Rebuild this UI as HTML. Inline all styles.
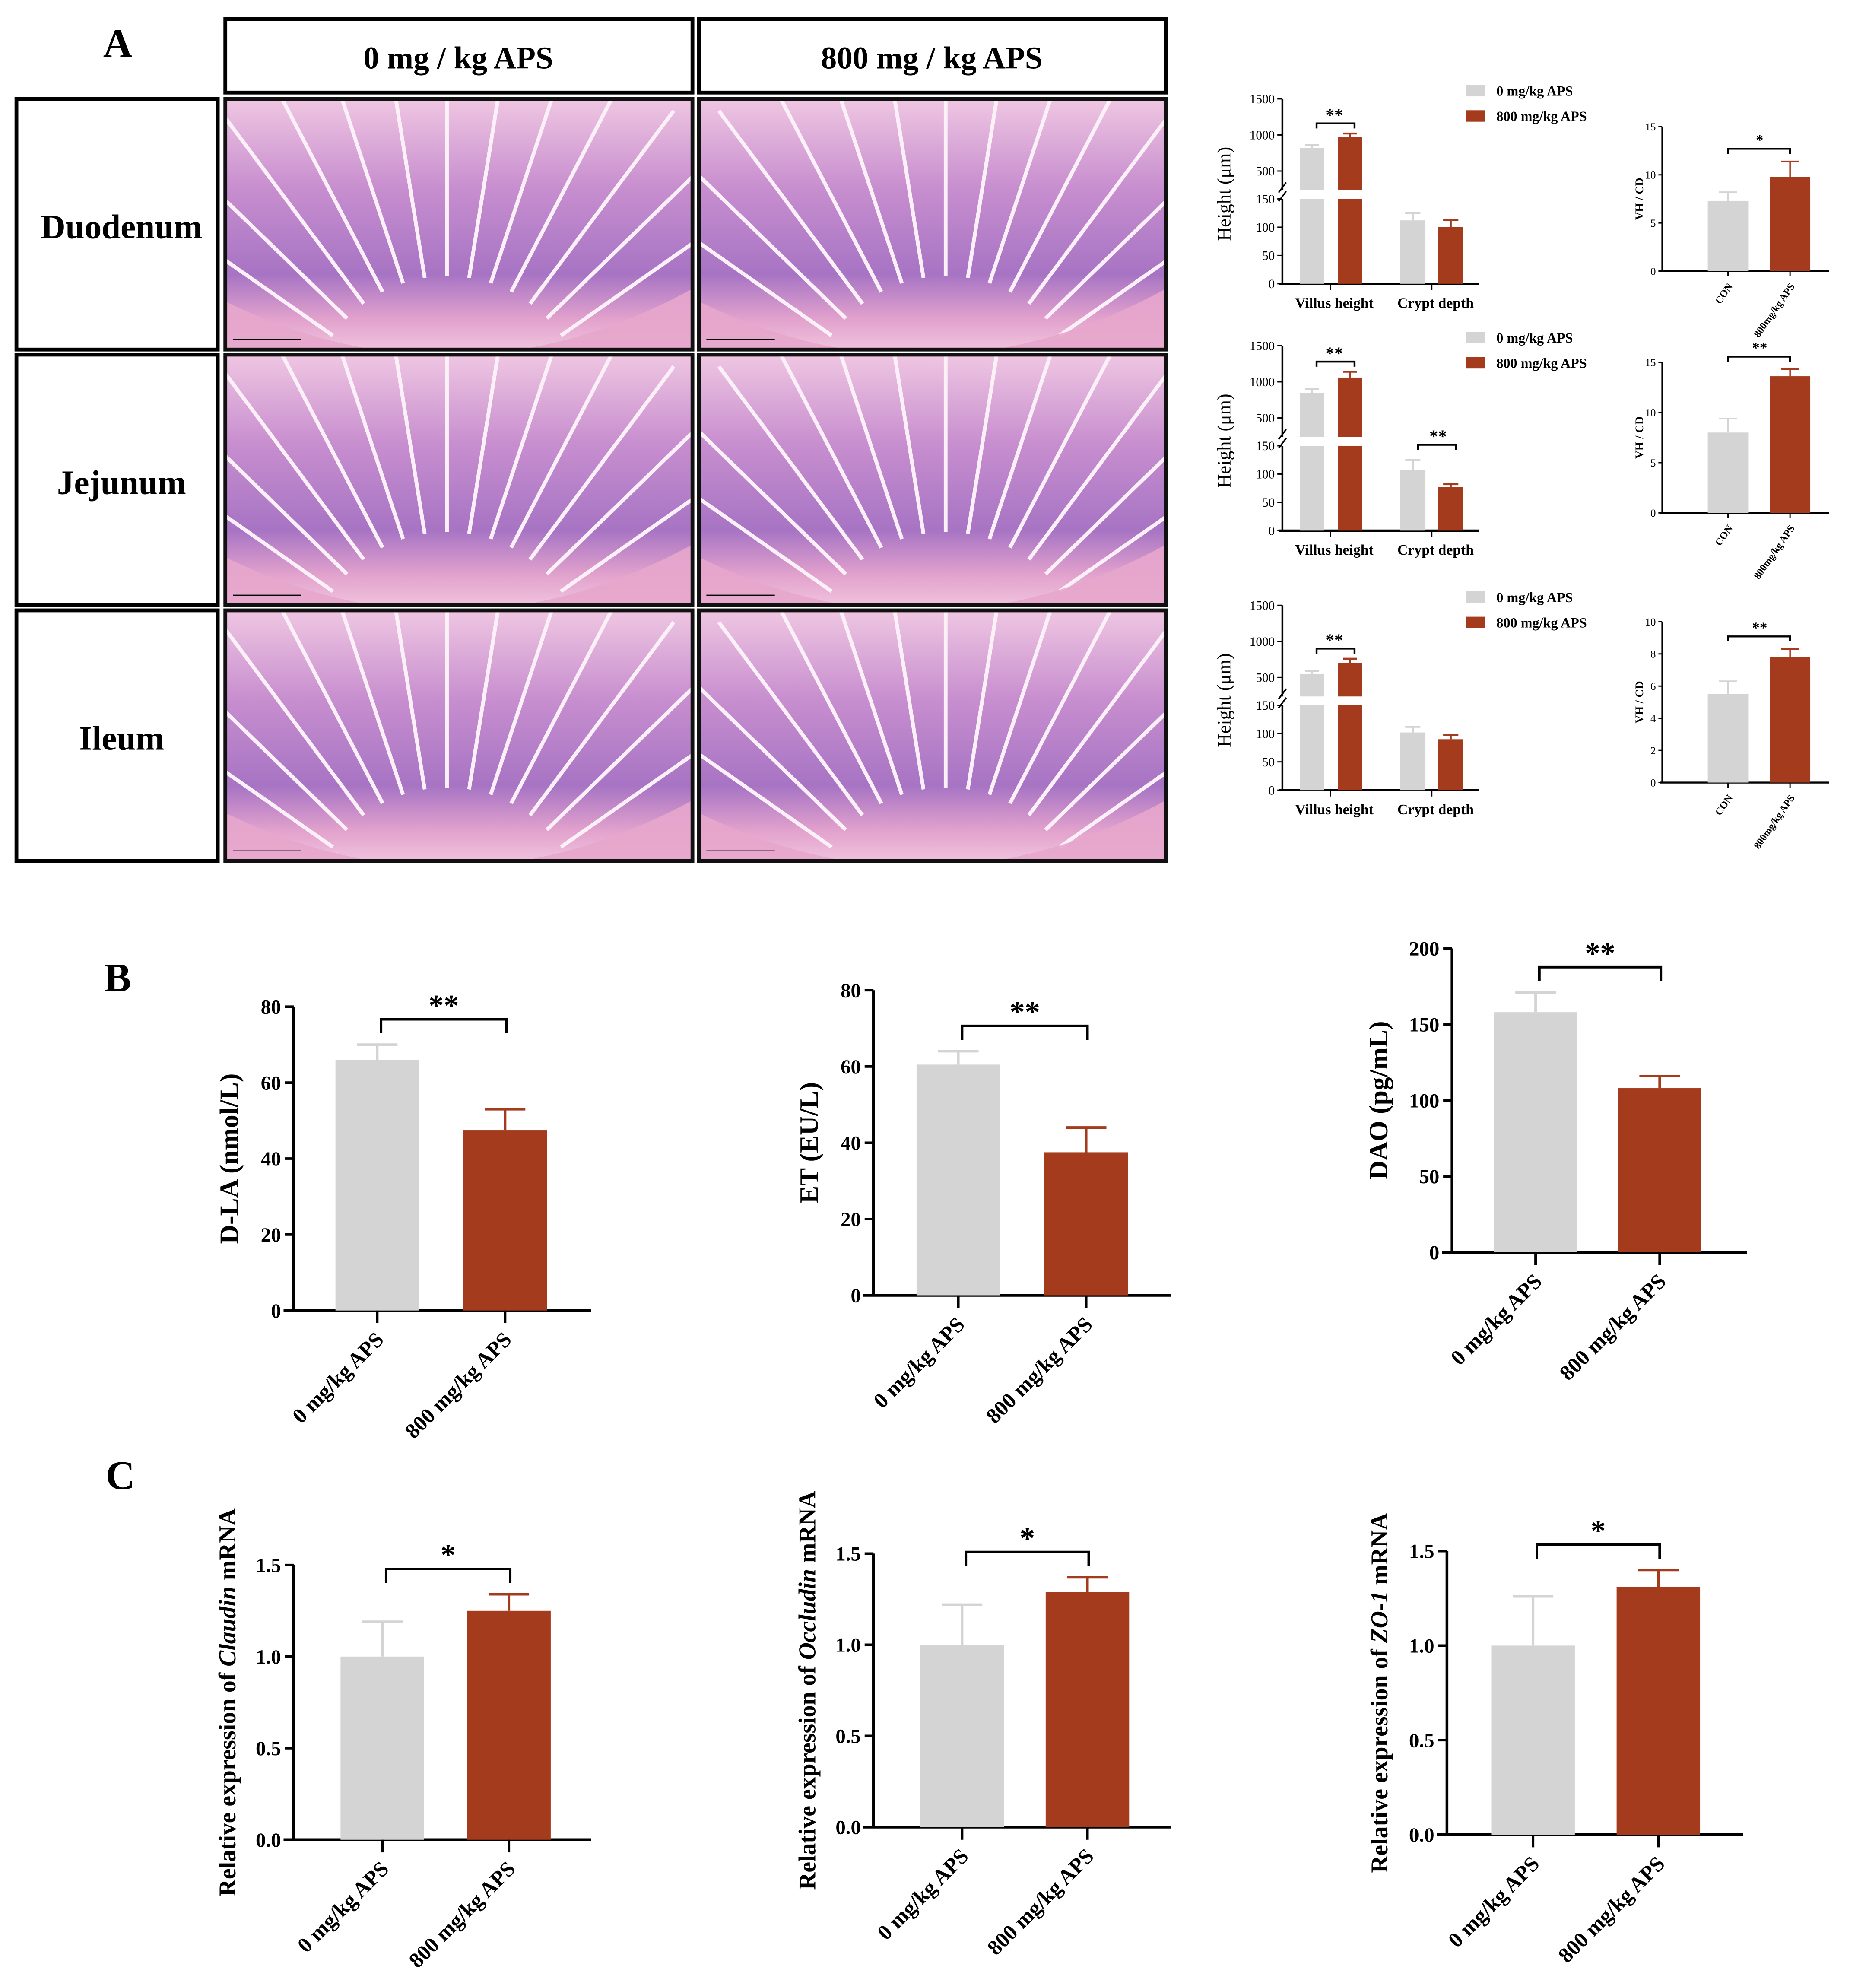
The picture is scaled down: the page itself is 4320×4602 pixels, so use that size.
<!DOCTYPE html>
<html><head><meta charset="utf-8">
<style>
html,body{margin:0;padding:0;background:#fff;}
svg{display:block;font-family:"Liberation Serif",serif;}
</style></head>
<body>
<svg id="fig" width="4320" height="4602" viewBox="0 0 1474 1570" xmlns="http://www.w3.org/2000/svg">
<defs id="defs">
<linearGradient id="tis" x1="0" y1="0" x2="0" y2="1">
<stop offset="0" stop-color="#efc6e2"/><stop offset="0.35" stop-color="#c88fcf"/><stop offset="0.7" stop-color="#a774c4"/><stop offset="0.88" stop-color="#e2a2cd"/><stop offset="1" stop-color="#f0c2dd"/>
</linearGradient>
</defs>
<g id="layer"></g>
</svg>
<script>
// ---------- Data ----------
const groups = ["0 mg/kg APS", "800 mg/kg APS"];
const segments = ["Duodenum", "Jejunum", "Ileum"];
const miniCats = ["Villus height", "Crypt depth"];
const villusCtrl = [820, 850, 550];
const villusAps = [970, 1060, 700];
const villusCtrlErr = [860, 900, 590];
const villusApsErr = [1020, 1140, 760];
const cryptCtrl = [112, 107, 102];
const cryptAps = [100, 77, 90];
const cryptCtrlErr = [125, 125, 112];
const cryptApsErr = [113, 82, 98];
const miniSig = ["**", "**", "**"];
const cryptSig = ["", "**", ""];
const ratioCtrl = [7.3, 8.0, 5.5];
const ratioAps = [9.8, 13.6, 7.8];
const ratioCtrlErr = [8.2, 9.4, 6.3];
const ratioApsErr = [11.4, 14.3, 8.3];
const ratioMax = [15, 15, 10];
const ratioSig = ["*", "**", "**"];
const ratioTicks = [[0,5,10,15],[0,5,10,15],[0,2,4,6,8,10]];
const upperTicks = [500, 1000, 1500];
const lowerTicks = [0, 50, 100, 150];

const bTitles = ["D-LA (nmol/L)", "ET (EU/L)", "DAO (pg/mL)"];
const bCtrl = [66, 60.5, 158];
const bAps = [47.5, 37.5, 108];
const bCtrlErr = [70, 64, 171];
const bApsErr = [53, 44, 116];
const bMax = [80, 80, 200];
const bTicks = [[0,20,40,60,80],[0,20,40,60,80],[0,50,100,150,200]];
const bSig = ["**", "**", "**"];

const cGenes = ["Claudin", "Occludin", "ZO-1"];
const cCtrl = [1.0, 1.0, 1.0];
const cAps = [1.25, 1.29, 1.31];
const cCtrlErr = [1.19, 1.22, 1.26];
const cApsErr = [1.34, 1.37, 1.40];
const cTicks = [0, 0.5, 1.0, 1.5];
const cSig = ["*", "*", "*"];

const GRAY = "#d3d4d3", RED = "#a53b1d";
const NS = "http://www.w3.org/2000/svg";
const root = document.getElementById("layer");
const defs = document.getElementById("defs");
function mk(tag, attrs, parent, text){
  const e = document.createElementNS(NS, tag);
  for (const k in attrs) e.setAttribute(k, attrs[k]);
  if (text !== undefined) e.textContent = text;
  (parent || root).appendChild(e);
  return e;
}

// ---------- Panel A: headers and histology ----------
let t;
t = mk("text", {x:93, y:45, "font-size":32, "font-weight":"bold", "text-anchor":"middle"}, root, "A");


const headX = [178, 552];
const headTxt = ["0 mg / kg APS", "800 mg / kg APS"];
for (let i=0;i<2;i++){
  const g = mk("g", {});
  
  
  mk("rect", {x:headX[i], y:15, width:369, height:58, fill:"none", stroke:"#000", "stroke-width":3}, g);
  mk("text", {x:headX[i]+184, y:54, "font-size":25, "font-weight":"bold", "text-anchor":"middle"}, g, headTxt[i]);
}
const rowY = [78, 280, 482];
for (let r=0;r<3;r++){
  const g = mk("g", {});
  
  
  mk("rect", {x:13, y:rowY[r], width:159, height:198, fill:"none", stroke:"#000", "stroke-width":3}, g);
  mk("text", {x:96, y:rowY[r]+110, "font-size":27, "font-weight":"bold", "text-anchor":"middle"}, g, segments[r]);
  for (let c=0;c<2;c++){
    const x0 = headX[c], y0 = rowY[r];
    const cid = 'clip' + r + c;
    const cp = mk("clipPath", {id:cid}, defs);
    mk("rect", {x:x0, y:y0, width:369, height:198}, cp);
    const im = mk("g", {});
    
    
    const inner = mk("g", {"clip-path":`url(#${cid})`}, im);
    mk("rect", {x:x0, y:y0, width:369, height:198, fill:"url(#tis)"}, inner);
    const cx = x0 + 185 + (c?10:-10), cy = y0 + 250;
    for (let k=0;k<13;k++){
      const a = -Math.PI/2 + (k-6)*0.16;
      const r1 = 110, r2 = 300;
      mk("line", {x1:cx+r1*Math.cos(a), y1:cy+r1*Math.sin(a), x2:cx+r2*Math.cos(a), y2:cy+r2*Math.sin(a), stroke:"#fbf0f7", "stroke-width":3}, inner);
    }
    mk("path", {d:`M${x0} ${y0+160} Q${x0+185} ${y0+250} ${x0+369} ${y0+150} L${x0+369} ${y0+198} L${x0} ${y0+198}Z`, fill:"#e7a6cc", opacity:0.9}, inner);
    mk("line", {x1:x0+6, y1:y0+190, x2:x0+60, y2:y0+190, stroke:"#000", "stroke-width":0.8}, inner);
    mk("rect", {x:x0, y:y0, width:369, height:198, fill:"none", stroke:"#111", "stroke-width":3}, im);
  }
}

// ---------- Panel A: mini charts ----------
const miniTop = [78, 273, 478];
const ratioTop = [100, 286, 491];
const ratioBot = [214, 405, 618];
for (let r=0;r<3;r++){
  const y0 = miniTop[r], ax = 1013, axEnd = 1168;
  const g = mk("g", {});
  
  
  const upY = v => y0 + (1500 - v) * 0.057;
  const upBot = y0 + 72;
  const loY = v => y0 + 146 - v * (67/150);
  mk("line", {x1:ax, y1:y0, x2:ax, y2:upBot, stroke:"#000", "stroke-width":1.5}, g);
  mk("line", {x1:ax, y1:y0+79, x2:ax, y2:y0+146, stroke:"#000", "stroke-width":1.5}, g);
  mk("line", {x1:ax-3, y1:upBot+2, x2:ax+3, y2:upBot-6, stroke:"#000", "stroke-width":1.2}, g);
  mk("line", {x1:ax-3, y1:y0+81, x2:ax+3, y2:y0+73, stroke:"#000", "stroke-width":1.2}, g);
  mk("line", {x1:ax-3, y1:y0+146, x2:axEnd, y2:y0+146, stroke:"#000", "stroke-width":1.8}, g);
  upperTicks.forEach(v=>{ mk("line",{x1:ax-4,y1:upY(v),x2:ax,y2:upY(v),stroke:"#000"},g); mk("text",{x:ax-6,y:upY(v)+3.5,"font-size":10,"text-anchor":"end"},g,String(v)); });
  lowerTicks.forEach(v=>{ mk("line",{x1:ax-4,y1:loY(v),x2:ax,y2:loY(v),stroke:"#000"},g); mk("text",{x:ax-6,y:loY(v)+3.5,"font-size":10,"text-anchor":"end"},g,String(v)); });
  mk("text", {x:972, y:y0+75, "font-size":15, "text-anchor":"middle", transform:`rotate(-90 972 ${y0+75})`}, g, "Height (μm)");
  const vx = [1027, 1057], vals = [villusCtrl[r], villusAps[r]], errs = [villusCtrlErr[r], villusApsErr[r]];
  for (let i=0;i<2;i++){
    const col = i?RED:GRAY;
    const b = mk("rect", {x:vx[i], y:upY(vals[i]), width:19, height:upBot-upY(vals[i]), fill:col}, g);
    
    
    mk("rect", {x:vx[i], y:loY(150), width:19, height:loY(0)-loY(150), fill:col}, g);
    mk("line", {x1:vx[i]+9.5, y1:upY(vals[i]), x2:vx[i]+9.5, y2:upY(errs[i]), stroke:col, "stroke-width":1.5}, g);
    mk("line", {x1:vx[i]+4, y1:upY(errs[i]), x2:vx[i]+15, y2:upY(errs[i]), stroke:col, "stroke-width":1.5}, g);
  }
  const cx = [1106, 1136], cv = [cryptCtrl[r], cryptAps[r]], ce = [cryptCtrlErr[r], cryptApsErr[r]];
  for (let i=0;i<2;i++){
    const col = i?RED:GRAY;
    const b = mk("rect", {x:cx[i], y:loY(cv[i]), width:20, height:loY(0)-loY(cv[i]), fill:col}, g);
    
    
    mk("line", {x1:cx[i]+10, y1:loY(cv[i]), x2:cx[i]+10, y2:loY(ce[i]), stroke:col, "stroke-width":1.5}, g);
    mk("line", {x1:cx[i]+4, y1:loY(ce[i]), x2:cx[i]+16, y2:loY(ce[i]), stroke:col, "stroke-width":1.5}, g);
  }
  const sy = upY(Math.max(villusCtrlErr[r], villusApsErr[r])) - 8;
  mk("path", {d:`M1040 ${sy+4}V${sy}H1070V${sy+4}`, fill:"none", stroke:"#000", "stroke-width":1.5}, g);
  mk("text", {x:1054, y:sy-2, "font-size":14, "font-weight":"bold", "text-anchor":"middle"}, g, miniSig[r]);
  if (cryptSig[r]){
    const cy2 = loY(Math.max(cryptCtrlErr[r], cryptApsErr[r])) - 12;
    mk("path", {d:`M1120 ${cy2+4}V${cy2}H1150V${cy2+4}`, fill:"none", stroke:"#000", "stroke-width":1.5}, g);
    mk("text", {x:1136, y:cy2-2, "font-size":14, "font-weight":"bold", "text-anchor":"middle"}, g, cryptSig[r]);
  }
  miniCats.forEach((c,i)=>{
    const xc = i? 1131:1051;
    mk("line",{x1:xc,y1:y0+146,x2:xc,y2:y0+151,stroke:"#000"},g);
    mk("text",{x:xc+3,y:y0+165,"font-size":11.5,"font-weight":"bold","text-anchor":"middle"},g,c);
  });
  const lg = mk("g", {});
  
  
  const ly = [y0-6, y0+14];
  groups.forEach((gname,i)=>{
    mk("rect",{x:1158,y:ly[i]-5,width:15,height:9,fill:i?RED:GRAY},lg);
    mk("text",{x:1182,y:ly[i]+3.5,"font-size":11,"font-weight":"bold"},lg,gname);
  });

  const rg = mk("g", {});
  
  
  const rax = 1313, rt = ratioTop[r], rb = ratioBot[r], rm = ratioMax[r];
  const ry = v => rb - v/rm*(rb-rt);
  mk("line",{x1:rax,y1:rt,x2:rax,y2:rb,stroke:"#000","stroke-width":1.2},rg);
  mk("line",{x1:rax-2,y1:rb,x2:1445,y2:rb,stroke:"#000","stroke-width":1.5},rg);
  ratioTicks[r].forEach(v=>{ mk("line",{x1:rax-3,y1:ry(v),x2:rax,y2:ry(v),stroke:"#000"},rg); mk("text",{x:rax-5,y:ry(v)+3,"font-size":8.5,"text-anchor":"end"},rg,String(v)); });
  mk("text",{x:1298,y:(rt+rb)/2,"font-size":9,"font-weight":"bold","text-anchor":"middle",transform:`rotate(-90 1298 ${(rt+rb)/2})`},rg,"VH / CD");
  const rx = [1349, 1398], rv = [ratioCtrl[r], ratioAps[r]], re = [ratioCtrlErr[r], ratioApsErr[r]];
  for (let i=0;i<2;i++){
    const col = i?RED:GRAY;
    const b = mk("rect",{x:rx[i],y:ry(rv[i]),width:32,height:rb-ry(rv[i]),fill:col},rg);
    
    
    mk("line",{x1:rx[i]+16,y1:ry(rv[i]),x2:rx[i]+16,y2:ry(re[i]),stroke:col,"stroke-width":1.2},rg);
    mk("line",{x1:rx[i]+9,y1:ry(re[i]),x2:rx[i]+23,y2:ry(re[i]),stroke:col,"stroke-width":1.2},rg);
    mk("line",{x1:rx[i]+16,y1:rb,x2:rx[i]+16,y2:rb+4,stroke:"#000"},rg);
  }
  const rsy = ry(Math.max(re[0],re[1])) - 10;
  mk("path",{d:`M1365 ${rsy+4}V${rsy}H1414V${rsy+4}`,fill:"none",stroke:"#000","stroke-width":1.5},rg);
  mk("text",{x:1390,y:rsy-3,"font-size":12,"font-weight":"bold","text-anchor":"middle"},rg,ratioSig[r]);
  mk("text",{x:1369,y:rb+12,"font-size":8,"font-weight":"bold","text-anchor":"end",transform:`rotate(-55 1369 ${rb+12})`},rg,"CON");
  mk("text",{x:1418,y:rb+12,"font-size":8,"font-weight":"bold","text-anchor":"end",transform:`rotate(-55 1418 ${rb+12})`},rg,"800mg/kg APS");
}

// ---------- Panels B & C ----------
function barChart(name, ax, yb, yt, axEnd, ticks, max, vals, errs, sig, title, titleX, tickFmt, bx){
  const g = mk("g", {});
  
  
  const y = v => yb - v/max*(yb-yt);
  mk("line",{x1:ax,y1:yt,x2:ax,y2:yb,stroke:"#000","stroke-width":2.2},g);
  mk("line",{x1:ax-8,y1:yb,x2:axEnd,y2:yb,stroke:"#000","stroke-width":2.2},g);
  ticks.forEach(v=>{
    mk("line",{x1:ax-7,y1:y(v),x2:ax,y2:y(v),stroke:"#000","stroke-width":2},g);
    mk("text",{x:ax-10,y:y(v)+5.5,"font-size":16,"font-weight":"bold","text-anchor":"end"},g,tickFmt(v));
  });
  for (let i=0;i<2;i++){
    const col = i?RED:GRAY, cx = bx[i]+33;
    const b = mk("rect",{x:bx[i],y:y(vals[i]),width:66,height:yb-y(vals[i]),fill:col},g);
    
    
    mk("line",{x1:cx,y1:y(vals[i]),x2:cx,y2:y(errs[i]),stroke:col,"stroke-width":2},g);
    mk("line",{x1:cx-16,y1:y(errs[i]),x2:cx+16,y2:y(errs[i]),stroke:col,"stroke-width":2},g);
    mk("line",{x1:cx,y1:yb,x2:cx,y2:yb+10,stroke:"#000","stroke-width":2},g);
    mk("text",{x:cx+6,y:yb+24,"font-size":17,"font-weight":"bold","text-anchor":"end",transform:`rotate(-45 ${cx+6} ${yb+24})`},g,groups[i]);
  }
  const sy = y(Math.max(errs[0],errs[1])) - 20;
  mk("path",{d:`M${bx[0]+36} ${sy+11}V${sy}H${bx[1]+34}V${sy+11}`,fill:"none",stroke:"#000","stroke-width":2},g);
  mk("text",{x:(bx[0]+bx[1])/2+35,y:sy-3,"font-size":24,"font-weight":"bold","text-anchor":"middle"},g,sig);
  const cy = (yt+yb)/2;
  const tt = mk("text",{x:titleX,y:cy,"font-size":title.size,"font-weight":"bold","text-anchor":"middle",transform:`rotate(-90 ${titleX} ${cy})`},g);
  title.parts.forEach(p=>{ mk("tspan",{"font-style":p[1]?"italic":"normal"},tt,p[0]); });
  return g;
}
t = mk("text", {x:93, y:783, "font-size":32, "font-weight":"bold", "text-anchor":"middle"}, root, "B");


t = mk("text", {x:95, y:1176, "font-size":32, "font-weight":"bold", "text-anchor":"middle"}, root, "C");



const bAx = [232, 690, 1147], bYb = [1035, 1023, 989], bYt = [795, 782, 749], bEnd = [467, 925, 1380], bTX = [188, 646, 1096];
const bBars = [[265,366],[724,825],[1180,1278]];
for (let i=0;i<3;i++){
  barChart('chart-b-' + i, bAx[i], bYb[i], bYt[i], bEnd[i], bTicks[i], bMax[i], [bCtrl[i], bAps[i]], [bCtrlErr[i], bApsErr[i]], bSig[i], {size:21, parts:[[bTitles[i],false]]}, bTX[i], v=>String(v), bBars[i]);
}
const cAx = [232, 690, 1143], cYb = [1453, 1443, 1449], cYt = [1236, 1227, 1225], cEnd = [467, 925, 1377], cTX = [186, 644, 1096];
const cBars = [[269,369],[727,826],[1178,1277]];
for (let i=0;i<3;i++){
  barChart('chart-c-' + i, cAx[i], cYb[i], cYt[i], cEnd[i], cTicks, 1.5, [cCtrl[i], cAps[i]], [cCtrlErr[i], cApsErr[i]], cSig[i], {size:19, parts:[["Relative expression of ",false],[cGenes[i],true],[" mRNA",false]]}, cTX[i], v=>v.toFixed(1), cBars[i]);
}
</script>
</body></html>
